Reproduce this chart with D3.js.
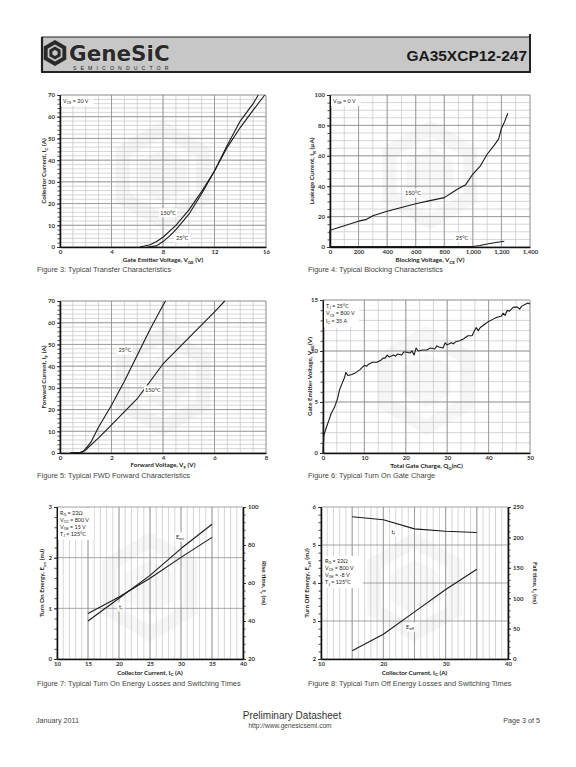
<!DOCTYPE html>
<html><head><meta charset="utf-8">
<script src="https://cdn.jsdelivr.net/npm/d3@7/dist/d3.min.js"></script>
<style>body{margin:0;background:#fff}svg{display:block}</style>
</head><body>
<svg id="page" width="576" height="767"></svg>
<script>
// ---------------- DATA ----------------
// Figure 3: Transfer characteristics (Vge in V, Ic in A)
const fig3Vge25 = [6.8, 7.5, 8, 8.5, 9, 10, 11, 12, 13, 14, 15, 15.4];
const fig3Ic25  = [0, 0.5, 2.5, 5, 8, 15, 24.5, 35, 47, 58, 66, 70];
const fig3Vge150 = [6.2, 7, 7.5, 8, 9, 10, 11, 12, 13, 14, 15, 15.9];
const fig3Ic150  = [0, 1, 2.5, 4.5, 10, 17, 25.5, 35, 46, 55, 63, 70];
const fig3XTicks = [0, 4, 8, 12, 16];
const fig3YTicks = [0, 10, 20, 30, 40, 50, 60, 70];

// Figure 4: Blocking characteristics (Vce in V, leakage in uA)
const fig4Vce150 = [0, 0, 50, 100, 200, 250, 300, 400, 500, 600, 700, 800, 850, 900, 950, 1000, 1050, 1100, 1150, 1180, 1200, 1220, 1245];
const fig4Ir150  = [0, 11, 12.5, 14, 17, 18, 20.5, 23.5, 26, 28.5, 30.5, 32.5, 35.5, 38.5, 41, 48, 53, 61, 67, 71, 78, 82, 88];
const fig4Vce25 = [0, 1000, 1050, 1100, 1150, 1220];
const fig4Ir25  = [0.3, 0.3, 1, 2, 2.8, 3.8];
const fig4XTicks = [0, 200, 400, 600, 800, 1000, 1200, 1400];
const fig4YTicks = [0, 20, 40, 60, 80, 100];

// Figure 5: FWD forward characteristics (Vf in V, If in A)
const fig5Vf25 = [0.4, 0.8, 0.9, 1, 1.2, 1.5, 2, 2.5, 3, 3.5, 4, 4.1];
const fig5If25 = [0, 0.3, 0.8, 2, 5, 12, 22, 33, 45, 57, 68, 70];
const fig5Vf150 = [0.4, 0.8, 0.9, 1, 1.5, 2, 3, 4, 5, 6, 6.4];
const fig5If150 = [0, 0.3, 0.5, 1.5, 7, 13, 25, 41, 53, 65, 70];
const fig5XTicks = [0, 2, 4, 6, 8];
const fig5YTicks = [0, 10, 20, 30, 40, 50, 60, 70];

// Figure 6: Gate charge (Qg in nC, Vge in V)
const fig6Qg = [0,0.2,0.8,1.5,2,2.8,3.5,4,4.6,5.2,5.5,6,7,8,9,10,10.5,11,12,13,14,14.5,15,15.5,16,17,17.5,18,19,19.5,20,21,21.5,22,22.5,23,24,25,26,27,27.5,28,29,29.5,30,31,31.5,32,33,34,35,36,36.5,37,37.5,38,39,40,41,42,43,43.5,44,44.5,45,46,47,47.5,48,49,49.5,50];
const fig6Vge = [0,1.7,2.5,3.3,3.9,4.5,5.3,6.2,6.8,7.4,7.9,7.6,7.7,7.9,8.2,8.6,8.5,8.7,8.9,8.9,9.1,9.3,9.3,9.6,9.4,9.6,9.5,9.7,9.6,9.9,9.9,9.8,10.0,9.6,10.3,10.0,10.1,10.1,10.3,10.2,10.5,10.4,10.3,10.8,10.6,10.8,10.7,10.9,11.0,11.2,11.5,11.5,11.9,12.3,12.0,12.3,12.6,12.9,13.1,13.3,13.4,13.7,13.5,14.0,13.9,14.3,14.3,14.1,14.4,14.6,14.7,14.6];
const fig6XTicks = [0, 10, 20, 30, 40, 50];
const fig6YTicks = [0, 5, 10, 15];

// Figure 7: Turn-on (Ic in A, Eon in mJ, tr in ns)
const fig7Ic  = [15, 20, 25, 30, 35];
const fig7Eon = [0.75, 1.2, 1.65, 2.18, 2.66];
const fig7Tr  = [44, 52.6, 62.5, 73.5, 84];
const fig7XTicks = [10, 15, 20, 25, 30, 35, 40];
const fig7YTicks = [0, 1, 2, 3];
const fig7Y2Ticks = [20, 40, 60, 80, 100];

// Figure 8: Turn-off (Ic in A, Eoff in mJ, tf in ns)
const fig8Ic   = [15, 20, 25, 30, 35];
const fig8Eoff = [2.22, 2.65, 3.24, 3.83, 4.36];
const fig8Tf   = [234, 229, 214, 210, 208];
const fig8XTicks = [10, 20, 30, 40];
const fig8YTicks = [2, 3, 4, 5, 6];
const fig8Y2Ticks = [0, 50, 100, 150, 200, 250];

// ---------------- DRAWING ----------------
const svg = d3.select('#page');
const TF = 'Lato, "Open Sans", sans-serif';
const CF = '"Liberation Sans", Arial, sans-serif';

function rich(sel, str, fs) {
  const parts = str.split(/(_\{[^}]*\})/);
  let shifted = false;
  parts.forEach(p => {
    if (!p) return;
    if (p.startsWith('_{')) {
      sel.append('tspan').attr('font-size', fs * 0.72).attr('dy', shifted ? 0 : fs * 0.25).text(p.slice(2, -1));
      shifted = true;
    } else {
      sel.append('tspan').attr('font-size', fs).attr('dy', shifted ? -fs * 0.25 : 0).text(p);
      shifted = false;
    }
  });
  return sel;
}

// Header
(function header() {
  const g = svg.append('g');
  g.append('rect').attr('x', 42).attr('y', 37).attr('width', 488).attr('height', 35)
    .attr('fill', '#c7c7c7').attr('stroke', '#222').attr('stroke-width', 1);
  g.append('line').attr('x1', 42).attr('x2', 42).attr('y1', 37).attr('y2', 72).attr('stroke', '#222').attr('stroke-width', 2.2);
  g.append('line').attr('x1', 41).attr('x2', 531).attr('y1', 72).attr('y2', 72).attr('stroke', '#222').attr('stroke-width', 2.2);
  g.append('line').attr('x1', 530).attr('x2', 530).attr('y1', 34).attr('y2', 73).attr('stroke', '#222').attr('stroke-width', 2);
  const hex = (cx, cy, r) => d3.range(6).map(i => {
    const a = Math.PI / 3 * i + Math.PI / 6;
    return [cx + r * Math.cos(a), cy + r * Math.sin(a)];
  });
  const cx = 55, cy = 53;
  g.append('path').attr('d', 'M' + hex(cx, cy, 13).join('L') + 'Z M' + hex(cx, cy, 8.5).join('L') + 'Z')
    .attr('fill', '#2a2a2a').attr('fill-rule', 'evenodd');
  g.append('path').attr('d', 'M' + hex(cx, cy, 6.5).join('L') + 'Z M' + hex(cx, cy, 3).join('L') + 'Z')
    .attr('fill', '#2a2a2a').attr('fill-rule', 'evenodd');
  g.append('text').attr('x', 69).attr('y', 61).attr('font-family', '"DejaVu Sans", sans-serif')
    .attr('font-weight', 'bold').attr('font-size', 21.5).attr('fill', '#2a2a2a')
    .attr('stroke', '#eee').attr('stroke-width', 0.6).attr('paint-order', 'stroke').text('GeneSiC');
  g.append('text').attr('x', 73).attr('y', 69.5).attr('font-family', CF).attr('font-size', 5.2)
    .attr('letter-spacing', 4.1).attr('fill', '#222').text('SEMICONDUCTOR');
  g.append('text').attr('x', 527).attr('y', 61).attr('text-anchor', 'end').attr('font-family', CF)
    .attr('font-weight', 'bold').attr('font-size', 15.5).attr('fill', '#1a1a1a').text('GA35XCP12-247');
})();

function drawChart(o) {
  const g = svg.append('g');
  const x = d3.scaleLinear().domain(o.xd).range([o.x0, o.x1]);
  const y = d3.scaleLinear().domain(o.yd).range([o.y0, o.y1]);
  const y2 = o.y2d ? d3.scaleLinear().domain(o.y2d).range([o.y0, o.y1]) : null;
  // faint watermark
  const cx = (o.x0 + o.x1) / 2, cy = (o.y0 + o.y1) / 2 + 4;
  const R = Math.min(o.x1 - o.x0, o.y0 - o.y1) * 0.36;
  const hex = r => d3.range(6).map(i => {
    const a = Math.PI / 3 * i + Math.PI / 6;
    return [cx + r * Math.cos(a), cy + r * Math.sin(a)];
  });
  g.append('path').attr('d', 'M' + hex(R).join('L') + 'Z M' + hex(R * 0.7).join('L') + 'Z')
    .attr('fill', '#f6f6f6').attr('fill-rule', 'evenodd');
  g.append('path').attr('d', 'M' + hex(R * 0.5).join('L') + 'Z').attr('fill', '#f8f8f8');

  const rng = (a, b, s) => d3.range(Math.round((b - a) / s) + 1).map(i => a + i * s);
  // minor grid
  g.append('g').selectAll('line').data(rng(o.xd[0], o.xd[1], o.xMinor)).join('line')
    .attr('x1', d => x(d)).attr('x2', d => x(d)).attr('y1', o.y0).attr('y2', o.y1)
    .attr('stroke', '#c4c4c4').attr('stroke-width', 0.7);
  if (o.yMinor) g.append('g').selectAll('line').data(rng(o.yd[0], o.yd[1], o.yMinor)).join('line')
    .attr('y1', d => y(d)).attr('y2', d => y(d)).attr('x1', o.x0).attr('x2', o.x1)
    .attr('stroke', '#c4c4c4').attr('stroke-width', 0.7);
  // major grid
  g.append('g').selectAll('line').data(rng(o.xd[0], o.xd[1], o.xMajor)).join('line')
    .attr('x1', d => x(d)).attr('x2', d => x(d)).attr('y1', o.y0).attr('y2', o.y1)
    .attr('stroke', '#8e8e8e').attr('stroke-width', 0.8);
  g.append('g').selectAll('line').data(o.yTicks).join('line')
    .attr('y1', d => y(d)).attr('y2', d => y(d)).attr('x1', o.x0).attr('x2', o.x1)
    .attr('stroke', '#8e8e8e').attr('stroke-width', 0.8);

  // axes
  const styleAxis = sel => {
    sel.selectAll('text').attr('font-family', TF).attr('font-weight', 'bold').attr('font-size', 6).attr('fill', '#333');
    sel.selectAll('line').attr('stroke', '#222').attr('stroke-width', 0.8);
    sel.select('.domain').attr('stroke', '#111').attr('stroke-width', 1.3);
  };
  const yMinTicks = rng(o.yd[0], o.yd[1], o.yTickMinor);
  g.append('g').attr('transform', `translate(${o.x0},0)`)
    .call(d3.axisLeft(y).tickValues(yMinTicks).tickSize(2.5).tickFormat('').tickSizeOuter(0)).call(styleAxis);
  g.append('g').attr('transform', `translate(${o.x0},0)`)
    .call(d3.axisLeft(y).tickValues(o.yTicks).tickSize(3).tickPadding(2).tickSizeOuter(0).tickFormat(o.yFmt || d3.format('d')))
    .call(styleAxis);
  g.append('g').attr('transform', `translate(0,${o.y0})`)
    .call(d3.axisBottom(x).tickValues(o.xTicks).tickSize(0).tickPadding(2.5).tickSizeOuter(0).tickFormat(o.xFmt || d3.format('d')))
    .call(styleAxis);
  if (y2) {
    g.append('g').attr('transform', `translate(${o.x1},0)`)
      .call(d3.axisRight(y2).tickValues(rng(o.y2d[0], o.y2d[1], o.y2TickMinor)).tickSize(2.5).tickFormat('').tickSizeOuter(0)).call(styleAxis);
    g.append('g').attr('transform', `translate(${o.x1},0)`)
      .call(d3.axisRight(y2).tickValues(o.y2Ticks).tickSize(3).tickPadding(2).tickSizeOuter(0).tickFormat(d3.format('d')))
      .call(styleAxis);
  }
  // axis titles
  rich(g.append('text').attr('x', (o.x0 + o.x1) / 2).attr('y', o.xTitleY).attr('text-anchor', 'middle')
    .attr('font-family', TF).attr('font-weight', 'bold').attr('font-size', 6.3).attr('fill', '#222'), o.xTitle, 6.3);
  rich(g.append('text').attr('transform', `translate(${o.yTitleX},${(o.y0 + o.y1) / 2}) rotate(-90)`).attr('text-anchor', 'middle')
    .attr('font-family', TF).attr('font-weight', 'bold').attr('font-size', 6.3).attr('fill', '#222'), o.yTitle, 6.3);
  if (y2) rich(g.append('text').attr('transform', `translate(${o.y2TitleX},${(o.y0 + o.y1) / 2}) rotate(90)`).attr('text-anchor', 'middle')
    .attr('font-family', TF).attr('font-weight', 'bold').attr('font-size', 6.3).attr('fill', '#222'), o.y2Title, 6.3);

  // series
  o.series.forEach(s => {
    const sc = s.right ? y2 : y;
    const pts = s.xs.map((v, i) => [v, s.ys[i]]);
    g.append('path').datum(pts).attr('fill', 'none').attr('stroke', '#1a1a1a').attr('stroke-width', 1.1)
      .attr('stroke-linejoin', 'round')
      .attr('d', d3.line().x(d => x(d[0])).y(d => sc(d[1])));
  });
  // curve labels (white boxes)
  (o.labels || []).forEach(l => {
    const sc = l.right ? y2 : y;
    const px = x(l.x), py = sc(l.y);
    g.append('rect').attr('x', px - l.w / 2).attr('y', py - 4.5).attr('width', l.w).attr('height', 9).attr('fill', '#fff');
    rich(g.append('text').attr('x', px).attr('y', py + 2).attr('text-anchor', 'middle').attr('font-family', TF)
      .attr('font-size', 5.6).attr('fill', '#222'), l.t, 5.6);
  });
  // condition box
  if (o.box) {
    const b = o.box;
    g.append('rect').attr('x', b.x).attr('y', b.y).attr('width', b.w).attr('height', b.lines.length * b.dy + 3).attr('fill', '#fff');
    b.lines.forEach((t, i) => {
      rich(g.append('text').attr('x', b.x + 2).attr('y', b.y + 6.5 + i * b.dy).attr('font-family', TF)
        .attr('font-size', 5.4).attr('fill', '#222'), t, 5.4);
    });
  }
  // caption
  svg.append('text').attr('x', o.capX).attr('y', o.capY).attr('font-family', CF).attr('font-size', 7.4)
    .attr('fill', '#444').text(o.caption);
}

drawChart({
  x0: 60, x1: 266, y0: 247, y1: 95, xd: [0, 16], yd: [0, 70],
  xMinor: 1, xMajor: 4, yMinor: 2, yTickMinor: 2, xTicks: fig3XTicks, yTicks: fig3YTicks,
  xTitle: 'Gate Emitter Voltage, V_{GE} (V)', xTitleY: 262, yTitle: 'Collector Current, I_{C} (A)', yTitleX: 46,
  series: [{xs: fig3Vge25, ys: fig3Ic25}, {xs: fig3Vge150, ys: fig3Ic150}],
  labels: [{x: 8.4, y: 15.7, t: '150°C', w: 18}, {x: 9.5, y: 4.1, t: '25°C', w: 16}],
  box: {x: 61, y: 96, w: 32, dy: 7, lines: ['V_{CE} = 20 V']},
  caption: 'Figure 3: Typical Transfer Characteristics', capX: 37, capY: 272
});
drawChart({
  x0: 330, x1: 530, y0: 247, y1: 95, xd: [0, 1400], yd: [0, 100],
  xMinor: 100, xMajor: 200, yMinor: 5, yTickMinor: 5, xTicks: fig4XTicks, yTicks: fig4YTicks,
  xFmt: d3.format(','),
  xTitle: 'Blocking Voltage, V_{CE} (V)', xTitleY: 262, yTitle: 'Leakage Current, I_{R} (µA)', yTitleX: 314,
  series: [{xs: fig4Vce150, ys: fig4Ir150}, {xs: fig4Vce25, ys: fig4Ir25}],
  labels: [{x: 581, y: 35.5, t: '150°C', w: 18}, {x: 924, y: 5.9, t: '25°C', w: 16}],
  box: {x: 331, y: 96, w: 30, dy: 7, lines: ['V_{GE} = 0 V']},
  caption: 'Figure 4: Typical Blocking Characteristics', capX: 308, capY: 272
});
drawChart({
  x0: 60, x1: 266, y0: 453, y1: 301, xd: [0, 8], yd: [0, 70],
  xMinor: 0.5, xMajor: 2, yMinor: 2, yTickMinor: 2, xTicks: fig5XTicks, yTicks: fig5YTicks,
  xTitle: 'Forward Voltage, V_{F} (V)', xTitleY: 467, yTitle: 'Forward Current, I_{F} (A)', yTitleX: 46,
  series: [{xs: fig5Vf25, ys: fig5If25}, {xs: fig5Vf150, ys: fig5If150}],
  labels: [{x: 2.52, y: 47.4, t: '25°C', w: 16}, {x: 3.61, y: 29, t: '150°C', w: 18}],
  caption: 'Figure 5: Typical FWD Forward Characteristics', capX: 37, capY: 478
});
drawChart({
  x0: 323, x1: 530, y0: 453, y1: 300, xd: [0, 50], yd: [0, 15],
  xMinor: 10 / 3, xMajor: 10, yMinor: 1, yTickMinor: 1, xTicks: fig6XTicks, yTicks: fig6YTicks,
  xTitle: 'Total Gate Charge, Q_{G}(nC)', xTitleY: 468, yTitle: 'Gate Emitter Voltage, V_{GE}(V)', yTitleX: 312,
  series: [{xs: fig6Qg, ys: fig6Vge}],
  box: {x: 324, y: 301, w: 35, dy: 7.8, lines: ['T_{J} = 25°C', 'V_{CE} = 800 V', 'I_{C} = 35 A']},
  caption: 'Figure 6: Typical Turn On Gate Charge', capX: 308, capY: 478
});
drawChart({
  x0: 57, x1: 243, y0: 659, y1: 507, xd: [10, 40], yd: [0, 3], y2d: [20, 100],
  xMinor: 1, xMajor: 5, yTickMinor: 0.2, xTicks: fig7XTicks, yTicks: fig7YTicks,
  y2Ticks: fig7Y2Ticks, y2TickMinor: 4,
  xTitle: 'Collector Current, I_{C} (A)', xTitleY: 674.5, yTitle: 'Turn On Energy, E_{on} (mJ)', yTitleX: 44,
  y2Title: 'Rise time, t_{r} (ns)', y2TitleX: 262,
  series: [{xs: fig7Ic, ys: fig7Eon}, {xs: fig7Ic, ys: fig7Tr, right: true}],
  labels: [{x: 29.8, y: 2.41, t: 'E_{on}', w: 10}, {x: 20.3, y: 1.03, t: 't_{r}', w: 7}],
  box: {x: 58, y: 508, w: 36, dy: 7.2, lines: ['R_{G} = 22Ω', 'V_{CC} = 800 V', 'V_{GE} = 15 V', 'T_{J} = 125°C']},
  caption: 'Figure 7: Typical Turn On Energy Losses and Switching Times', capX: 37, capY: 686
});
drawChart({
  x0: 321, x1: 508, y0: 659, y1: 507, xd: [10, 40], yd: [2, 6], y2d: [0, 250],
  xMinor: 1, xMajor: 5, yTickMinor: 0.2, xTicks: fig8XTicks, yTicks: fig8YTicks,
  y2Ticks: fig8Y2Ticks, y2TickMinor: 10,
  xTitle: 'Collector Current, I_{C} (A)', xTitleY: 674.5, yTitle: 'Turn Off Energy, E_{off} (mJ)', yTitleX: 309,
  y2Title: 'Fall time, t_{f} (ns)', y2TitleX: 533,
  series: [{xs: fig8Ic, ys: fig8Eoff}, {xs: fig8Ic, ys: fig8Tf, right: true}],
  labels: [{x: 21.6, y: 5.34, t: 't_{f}', w: 7}, {x: 24.3, y: 2.84, t: 'E_{off}', w: 11}],
  box: {x: 323, y: 556, w: 40, dy: 7.3, lines: ['R_{G} = 22Ω', 'V_{CE} = 800 V', 'V_{GE} = -8 V', 'T_{J} = 125°C']},
  caption: 'Figure 8: Typical Turn Off Energy Losses and Switching Times', capX: 308, capY: 686
});

// Footer
svg.append('text').attr('x', 36).attr('y', 723).attr('font-family', CF).attr('font-size', 7.2).attr('fill', '#444').text('January 2011');
svg.append('text').attr('x', 540).attr('y', 723).attr('text-anchor', 'end').attr('font-family', CF).attr('font-size', 7.2).attr('fill', '#444').text('Page 3 of 5');
svg.append('text').attr('x', 292).attr('y', 719).attr('text-anchor', 'middle').attr('font-family', CF).attr('font-size', 10).attr('fill', '#333').text('Preliminary Datasheet');
svg.append('text').attr('x', 290).attr('y', 727.5).attr('text-anchor', 'middle').attr('font-family', CF).attr('font-size', 6.6).attr('fill', '#444').text('http://www.genesicsemi.com');
</script>
</body></html>
